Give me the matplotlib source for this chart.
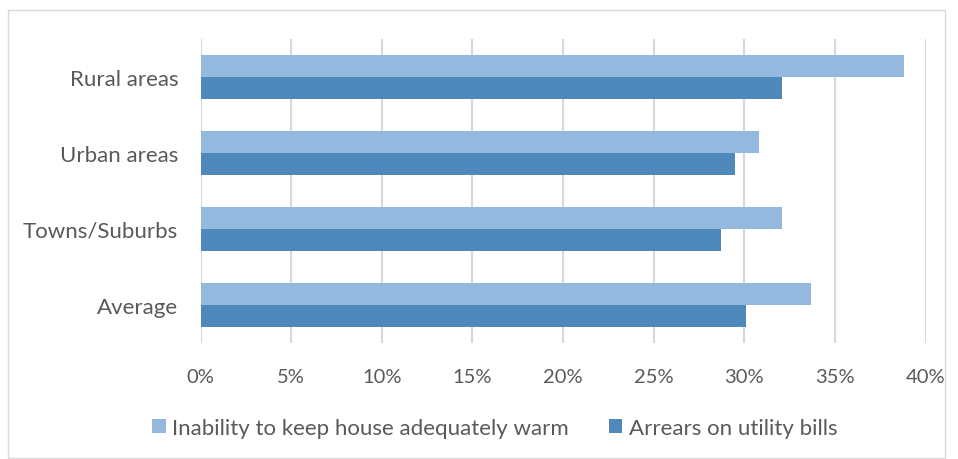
import matplotlib
matplotlib.use("Agg")
import matplotlib.pyplot as plt
from matplotlib.patches import Rectangle
import numpy as np

categories = ["Average", "Towns/Suburbs", "Urban areas", "Rural areas"]
inability_warm = [33.7, 32.1, 30.8, 38.8]
arrears_bills = [30.1, 28.7, 29.5, 32.1]
series_names = ["Inability to keep house adequately warm", "Arrears on utility bills"]
xticks = [0, 5, 10, 15, 20, 25, 30, 35, 40]
xtick_labels = [f"{v}%" for v in xticks]

plt.rcParams['font.family'] = ['Lato', 'DejaVu Sans']
text_color = "#595959"
light = "#95B8DF"
dark = "#4F89BC"

W, H = 958, 460
fig = plt.figure(figsize=(W / 100, H / 100), dpi=100)
# outer frame
fig.patches.append(Rectangle((8 / W, 1 - 459 / H), (945 - 8) / W, (459 - 11) / H,
                             transform=fig.transFigure, fill=False,
                             edgecolor="#D9D9D9", linewidth=1.0))

left, right, top, bottom = 200.5, 925.7, 40, 344
ax = fig.add_axes([left / W, 1 - bottom / H, (right - left) / W, (bottom - top) / H])

y = np.arange(len(categories))
h = 0.285
ax.barh(y + h / 2, inability_warm, height=h, color=light, label=series_names[0], zorder=3)
ax.barh(y - h / 2, arrears_bills, height=h, color=dark, label=series_names[1], zorder=3)

ax.set_xlim(0, 40)
ax.set_ylim(-0.5, len(categories) - 0.5)
ax.set_xticks(xticks)
ax.set_xticklabels(xtick_labels)
ax.set_yticks(y)
ax.set_yticklabels(categories)
ax.xaxis.grid(True, color="#D9D9D9", linewidth=1.5, zorder=0)
ax.set_axisbelow(True)
for s in ax.spines.values():
    s.set_visible(False)
ax.tick_params(axis="both", length=0, labelcolor=text_color)
ax.tick_params(axis="y", labelsize=16, pad=16)
ax.tick_params(axis="x", labelsize=14.5, pad=18)

handles, labels = ax.get_legend_handles_labels()
leg = fig.legend(handles, labels, loc="center", bbox_to_anchor=(495 / W, 1 - 429 / H),
                 ncol=2, frameon=False, fontsize=16, handlelength=0.6, handleheight=0.6,
                 handletextpad=0.3, columnspacing=1.8)
for t in leg.get_texts():
    t.set_color(text_color)

fig.savefig("out.png", dpi=100)
